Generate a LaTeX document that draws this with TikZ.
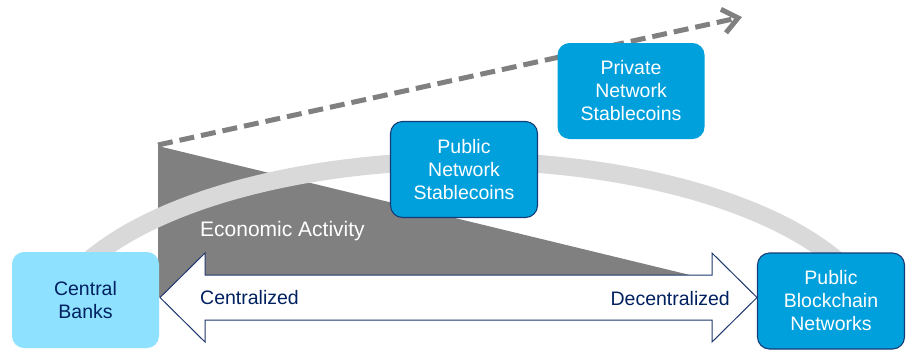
\documentclass[tikz,border=0pt]{standalone}
\usepackage{fontspec}
\setmainfont{Liberation Sans}
\usetikzlibrary{arrows.meta}
\definecolor{navy}{RGB}{0,32,96}
\definecolor{arrowline}{RGB}{31,56,110}
\definecolor{boxblue}{RGB}{0,160,220}
\definecolor{boxborder}{RGB}{20,60,120}
\definecolor{lightcyan}{RGB}{142,225,255}
\definecolor{midgray}{RGB}{128,128,128}
\definecolor{arcgray}{RGB}{217,217,217}
\tikzset{
  boxbase/.style={rounded corners=12pt, minimum width=147pt, minimum height=96pt,
    align=center, inner sep=2pt, font=\fontsize{19.5}{23}\selectfont},
  cbbox/.style={boxbase, fill=lightcyan, text=navy},
  bluebox/.style={boxbase, fill=boxblue, text=white},
  blueboxedge/.style={bluebox, draw=boxborder, line width=1.1pt},
  lbl/.style={font=\fontsize{19.5}{23}\selectfont, text=navy, inner sep=0pt},
}
\begin{document}
\begin{tikzpicture}[x=1pt,y=-1pt]
\useasboundingbox (0,0) rectangle (907,349);
% gray economic activity wedge
\fill[midgray] (158,146) -- (690,275) -- (690,300) -- (158,297) -- cycle;
% light gray arc
\draw[arcgray, line width=18pt] (88.8,260.4) arc[start angle=207, end angle=333, x radius=420, y radius=182];
% dashed growth arrow
\coordinate (dstart) at (158,145);
\coordinate (dend) at (742,17);
\draw[midgray, line width=5pt, dash pattern=on 15pt off 7pt,
  -{Straight Barb[length=15pt,width=24pt,line width=5pt]}] (dstart) -- (dend);
% double arrow
\draw[arrowline, line width=1pt, fill=white]
  (160,297.5) -- (205,253) -- (205,275) -- (712,275) -- (712,253) -- (757,297.5)
  -- (712,342) -- (712,320) -- (205,320) -- (205,342) -- cycle;
% labels
\node[anchor=west, text=white, font=\fontsize{21}{25}\selectfont, inner sep=0pt] (econ) at (200,231) {Economic Activity};
\node[lbl, anchor=west] (cent) at (200,298) {Centralized};
\node[lbl, anchor=east] (decent) at (730,299) {Decentralized};
% boxes
\node[cbbox] (cb) at (85.5,300) {Central\\Banks};
\node[blueboxedge] (pns) at (464,169.5) {Public\\Network\\Stablecoins};
\node[bluebox] (prns) at (631,91) {Private\\Network\\Stablecoins};
\node[blueboxedge] (pbn) at (831,301) {Public\\Blockchain\\Networks};
\end{tikzpicture}
\end{document}
